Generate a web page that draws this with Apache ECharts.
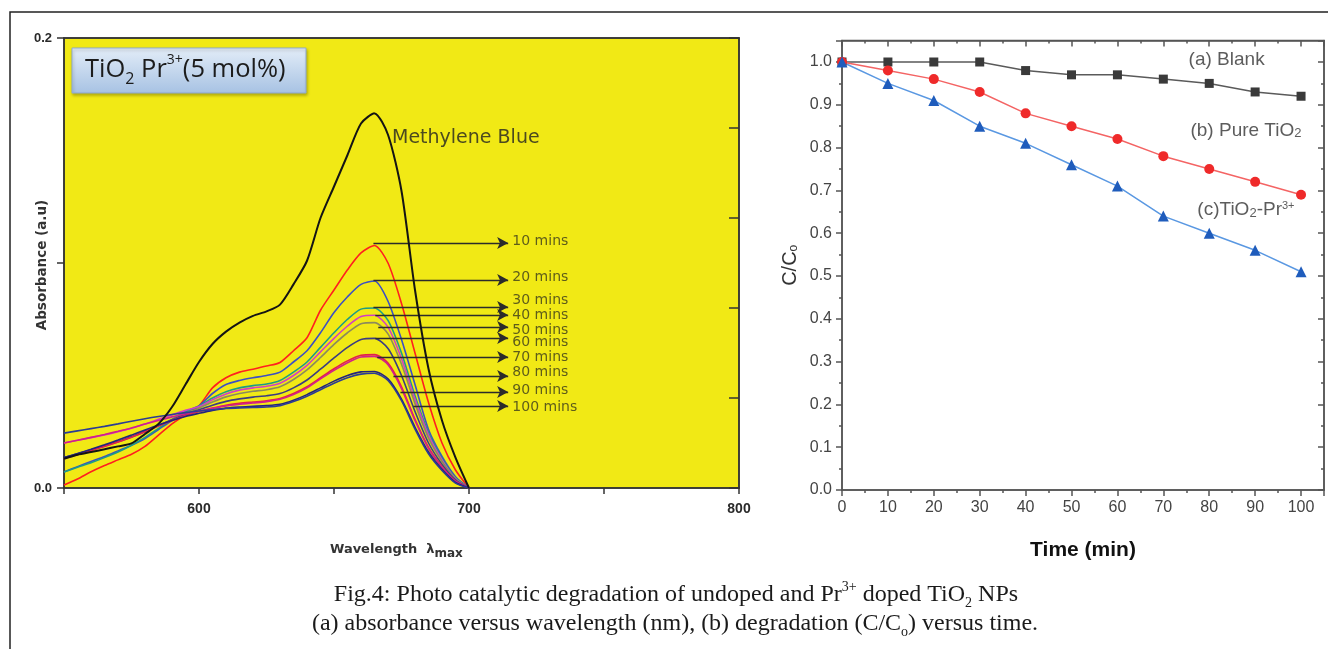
<!DOCTYPE html>
<html>
<head>
<meta charset="utf-8">
<script src="https://cdn.jsdelivr.net/npm/echarts@6/dist/echarts.min.js"></script>
<style>
  html, body { margin: 0; padding: 0; background: #ffffff; }
  #chart { width: 1328px; height: 649px; }
</style>
</head>
<body>
<div id="chart"></div>
<script>
// ---- (a) absorbance spectra, 550–700 nm ----
const wavelengths = [550,555,560,565,570,575,580,585,590,595,600,605,610,615,620,625,630,635,640,645,650,655,660,665,670,675,680,685,690,695,700];

const methyleneBlue = [.0130,.0148,.0160,.0172,.0185,.0198,.0240,.0285,.0360,.0460,.0560,.0640,.0695,.0735,.0765,.0785,.0815,.0905,.1010,.1200,.1340,.1480,.1620,.1665,.1570,.1320,.0880,.0530,.0300,.0135,0];
const min10  = [.0013,.0040,.0072,.0100,.0125,.0150,.0185,.0235,.0285,.0325,.0365,.0445,.0490,.0515,.0528,.0542,.0558,.0610,.0668,.0790,.0880,.0970,.1045,.1078,.1000,.0820,.0600,.0380,.0200,.0080,0];
const min20  = [.0071,.0095,.0118,.0140,.0165,.0190,.0220,.0260,.0300,.0335,.0365,.0420,.0460,.0478,.0490,.0500,.0515,.0560,.0610,.0690,.0780,.0850,.0905,.0920,.0830,.0660,.0460,.0260,.0140,.0050,0];
const min30  = [.0071,.0092,.0112,.0135,.0160,.0190,.0225,.0265,.0305,.0340,.0365,.0400,.0428,.0445,.0455,.0462,.0478,.0515,.0560,.0625,.0690,.0750,.0795,.0800,.0745,.0600,.0410,.0245,.0130,.0045,0];
const min40  = [.0200,.0212,.0224,.0236,.0250,.0266,.0284,.0305,.0325,.0345,.0362,.0392,.0418,.0435,.0445,.0452,.0466,.0500,.0545,.0605,.0665,.0720,.0762,.0768,.0715,.0575,.0395,.0235,.0125,.0042,0];
const min50  = [.0133,.0150,.0168,.0186,.0205,.0226,.0250,.0278,.0305,.0332,.0355,.0382,.0405,.0420,.0430,.0437,.0450,.0482,.0525,.0580,.0638,.0690,.0730,.0735,.0685,.0550,.0375,.0222,.0118,.0040,0];
const min60  = [.0135,.0152,.0170,.0188,.0207,.0228,.0252,.0278,.0303,.0328,.0348,.0368,.0385,.0396,.0404,.0410,.0420,.0445,.0480,.0528,.0578,.0625,.0660,.0665,.0620,.0500,.0340,.0200,.0105,.0035,0];
const min70  = [.0130,.0148,.0166,.0185,.0205,.0226,.0250,.0275,.0300,.0322,.0340,.0355,.0368,.0376,.0382,.0388,.0398,.0420,.0450,.0490,.0530,.0565,.0590,.0593,.0555,.0450,.0305,.0180,.0095,.0030,0];
const min80  = [.0200,.0212,.0225,.0238,.0252,.0267,.0284,.0300,.0316,.0330,.0342,.0354,.0365,.0372,.0378,.0384,.0394,.0415,.0445,.0485,.0523,.0557,.0582,.0585,.0548,.0442,.0300,.0176,.0092,.0030,0];
const min90  = [.0135,.0153,.0172,.0192,.0213,.0235,.0258,.0280,.0300,.0318,.0332,.0345,.0355,.0360,.0363,.0366,.0372,.0390,.0415,.0445,.0475,.0500,.0516,.0518,.0485,.0395,.0270,.0160,.0083,.0025,0];
const min100 = [.0244,.0254,.0264,.0274,.0285,.0297,.0308,.0318,.0327,.0335,.0342,.0348,.0353,.0356,.0358,.0360,.0366,.0384,.0408,.0437,.0466,.0490,.0506,.0510,.0478,.0388,.0262,.0152,.0078,.0022,0];

const timeSpectra = [min10, min20, min30, min40, min50, min60, min70, min80, min90, min100];
const spectrumNames = ['10 mins','20 mins','30 mins','40 mins','50 mins','60 mins','70 mins','80 mins','90 mins','100 mins'];
const spectrumColors = ['#ff1f1f','#3c4fc4','#1c9c86','#d23fc4','#8c8a5c','#3b3c82','#e21f4c','#d2208a','#23237e','#2c3c94'];

// call-out arrows: start wavelength, level, and label level
const arrowFrom   = [664.6, 664.6, 664.6, 665.3, 666.4, 665.3, 666.0, 672.0, 674.6, 679.4];
const arrowLevel  = [.1089, .0924, .0804, .0769, .0716, .0667, .0582, .0498, .0427, .0364];
const labelLevel  = [.1098, .0938, .0836, .0769, .0702, .0649, .0582, .0516, .0436, .0360];
const arrowTo = 714.5;
const labelAt = 715.5;

// ---- (b) degradation C/Co vs time ----
const timeMin   = [0, 10, 20, 30, 40, 50, 60, 70, 80, 90, 100];
const blank     = [1.00, 1.00, 1.00, 1.00, 0.98, 0.97, 0.97, 0.96, 0.95, 0.93, 0.92];
const pureTiO2  = [1.00, 0.98, 0.96, 0.93, 0.88, 0.85, 0.82, 0.78, 0.75, 0.72, 0.69];
const tio2Pr    = [1.00, 0.95, 0.91, 0.85, 0.81, 0.76, 0.71, 0.64, 0.60, 0.56, 0.51];

const pair = (xs, ys) => xs.map((x, i) => [x, ys[i]]);

const chart = echarts.init(document.getElementById('chart'), null, { renderer: 'canvas' });

const axisDark = { color: '#333', width: 1.5 };
const axisGray = { color: '#555', width: 1.5 };
const sans = "'Liberation Sans', Arial, sans-serif";
const dejavu = "'DejaVu Sans', sans-serif";
const clear = 'rgba(0,0,0,0)';

const series = [];

series.push({
  name: 'Methylene Blue', type: 'line', xAxisIndex: 0, yAxisIndex: 0,
  data: pair(wavelengths, methyleneBlue), showSymbol: false, smooth: 0.25,
  lineStyle: { color: '#141414', width: 2 }, z: 5,
  markLine: {
    silent: true, symbol: ['none', 'arrow'], symbolSize: [9, 11],
    lineStyle: { color: '#2b2b2b', width: 1.3, type: 'solid' },
    label: { show: false },
    data: arrowLevel.map((lv, i) => [{ coord: [arrowFrom[i], lv] }, { coord: [arrowTo, lv] }])
  }
});

timeSpectra.forEach((vals, i) => {
  series.push({
    name: spectrumNames[i], type: 'line', xAxisIndex: 0, yAxisIndex: 0,
    data: pair(wavelengths, vals), showSymbol: false, smooth: 0.25,
    lineStyle: { color: spectrumColors[i], width: 1.6 }, z: 4
  });
});

// call-out texts
series.push({
  type: 'scatter', xAxisIndex: 0, yAxisIndex: 0, symbolSize: 1, silent: true,
  itemStyle: { color: clear }, z: 6,
  data: labelLevel.map((lv, i) => ({ value: [labelAt, lv], name: spectrumNames[i] })),
  label: {
    show: true, position: 'right', distance: 1, formatter: p => p.name,
    fontFamily: dejavu, fontSize: 14, color: '#3a3a1c'
  }
});
series.push({
  type: 'scatter', xAxisIndex: 0, yAxisIndex: 0, symbolSize: 1, silent: true,
  itemStyle: { color: clear }, z: 6,
  data: [{ value: [671.3, 0.1556], name: 'Methylene Blue' }],
  label: {
    show: true, position: 'right', distance: 0, formatter: p => p.name,
    fontFamily: dejavu, fontSize: 19, color: '#222'
  }
});

// degradation curves
series.push({
  name: '(a) Blank', type: 'line', xAxisIndex: 2, yAxisIndex: 2,
  data: pair(timeMin, blank), symbol: 'rect', symbolSize: 9,
  itemStyle: { color: '#3a3a3a' }, lineStyle: { color: '#5a5a5a', width: 1.5 }
});
series.push({
  name: '(b) Pure TiO2', type: 'line', xAxisIndex: 2, yAxisIndex: 2,
  data: pair(timeMin, pureTiO2), symbol: 'circle', symbolSize: 10,
  itemStyle: { color: '#ef2a2a' }, lineStyle: { color: '#f46464', width: 1.5 }
});
series.push({
  name: '(c) TiO2-Pr3+', type: 'line', xAxisIndex: 2, yAxisIndex: 2,
  data: pair(timeMin, tio2Pr), symbol: 'triangle', symbolSize: 11,
  itemStyle: { color: '#1f5cbc' }, lineStyle: { color: '#5a98e2', width: 1.5 }
});
series.push({
  type: 'scatter', xAxisIndex: 2, yAxisIndex: 2, symbolSize: 1, silent: true,
  itemStyle: { color: clear }, z: 6,
  data: [
    { value: [75.4, 1.005], name: 'blank' },
    { value: [75.8, 0.839], name: 'pure' },
    { value: [77.3, 0.654], name: 'doped' }
  ],
  label: {
    show: true, position: 'right', distance: 0, color: '#333',
    fontFamily: sans, fontSize: 19,
    formatter: p => p.name === 'blank' ? '(a) Blank'
      : p.name === 'pure' ? '(b) Pure TiO{s|2}' : '(c)TiO{s|2}-Pr{u|3+}',
    rich: {
      s: { fontFamily: sans, fontSize: 13, lineHeight: 13, verticalAlign: 'bottom', color: '#333' },
      u: { fontFamily: sans, fontSize: 11, lineHeight: 11, verticalAlign: 'top', color: '#333' }
    }
  }
});

const option = {
  animation: false,
  backgroundColor: '#ffffff',
  grid: [
    { left: 64, top: 38, width: 675, height: 450, show: true, backgroundColor: '#f1e915', borderColor: '#333', borderWidth: 1.5 },
    { left: 842, top: 40.6, width: 482, height: 449.4, show: true, backgroundColor: '#ffffff', borderColor: '#555', borderWidth: 1.5 }
  ],
  xAxis: [
    {
      gridIndex: 0, type: 'value', min: 550, max: 800, interval: 50, position: 'bottom',
      axisLine: { onZero: false, lineStyle: axisDark },
      axisTick: { inside: false, length: 6, lineStyle: axisDark },
      axisLabel: {
        margin: 14, fontFamily: sans, fontWeight: 'bold', fontSize: 14, color: '#2a2a2a',
        formatter: v => (v === 600 || v === 700 || v === 800) ? String(v) : ''
      },
      splitLine: { show: false }
    },
    {
      gridIndex: 0, type: 'value', min: 550, max: 800, position: 'top',
      axisLine: { onZero: false, lineStyle: axisDark }, axisTick: { show: false },
      axisLabel: { show: false }, splitLine: { show: false }
    },
    {
      gridIndex: 1, type: 'value', min: 0, max: 105, interval: 10, position: 'bottom',
      name: 'Time (min)', nameLocation: 'middle', nameGap: 50,
      nameTextStyle: { fontFamily: sans, fontWeight: 'bold', fontSize: 21, color: '#111' },
      axisLine: { onZero: false, lineStyle: axisGray },
      axisTick: { inside: false, length: 6, lineStyle: axisGray },
      minorTick: { show: true, splitNumber: 2, length: 3, lineStyle: axisGray },
      axisLabel: { margin: 10, showMaxLabel: false, fontFamily: sans, fontSize: 16, color: '#444' },
      splitLine: { show: false }
    },
    {
      gridIndex: 1, type: 'value', min: 0, max: 105, interval: 10, position: 'top',
      axisLine: { onZero: false, lineStyle: axisGray },
      axisTick: { inside: true, length: 6, lineStyle: axisGray },
      minorTick: { show: true, splitNumber: 2, length: 3, lineStyle: axisGray },
      axisLabel: { show: false }, splitLine: { show: false }
    }
  ],
  yAxis: [
    {
      gridIndex: 0, type: 'value', min: 0, max: 0.2, interval: 0.1, position: 'left',
      axisLine: { onZero: false, lineStyle: axisDark },
      axisTick: { inside: false, length: 7, lineStyle: axisDark },
      axisLabel: {
        margin: 12, fontFamily: sans, fontWeight: 'bold', fontSize: 13, color: '#2a2a2a',
        formatter: v => (Math.abs(v) < 1e-9 || Math.abs(v - 0.2) < 1e-9) ? v.toFixed(1) : ''
      },
      splitLine: { show: false }
    },
    {
      gridIndex: 0, type: 'value', min: 0, max: 0.2, interval: 0.04, position: 'right',
      axisLine: { onZero: false, lineStyle: axisDark },
      axisTick: { inside: true, length: 10, lineStyle: axisDark },
      axisLabel: { show: false }, splitLine: { show: false }
    },
    {
      gridIndex: 1, type: 'value', min: 0, max: 1.05, interval: 0.1, position: 'left',
      name: '{a|C/C}{o|o}', nameLocation: 'middle', nameGap: 42, nameRotate: 90,
      nameTextStyle: {
        rich: {
          a: { fontFamily: sans, fontSize: 20, color: '#333' },
          o: { fontFamily: sans, fontSize: 12, color: '#333', verticalAlign: 'bottom', lineHeight: 12 }
        }
      },
      axisLine: { onZero: false, lineStyle: axisGray },
      axisTick: { inside: false, length: 6, lineStyle: axisGray },
      minorTick: { show: true, splitNumber: 2, length: 3, lineStyle: axisGray },
      axisLabel: { margin: 10, showMaxLabel: false, fontFamily: sans, fontSize: 16, color: '#444', formatter: v => v.toFixed(1) },
      splitLine: { show: false }
    },
    {
      gridIndex: 1, type: 'value', min: 0, max: 1.05, interval: 0.1, position: 'right',
      axisLine: { onZero: false, lineStyle: axisGray },
      axisTick: { inside: true, length: 6, lineStyle: axisGray },
      minorTick: { show: true, splitNumber: 2, length: 3, lineStyle: axisGray },
      axisLabel: { show: false }, splitLine: { show: false }
    }
  ],
  graphic: [
    {
      type: 'rect', z: 100, silent: true,
      shape: { x: 10, y: 12, width: 1340, height: 700 },
      style: { fill: 'none', stroke: '#222', lineWidth: 1.5 }
    },
    {
      type: 'rect', z: 100, silent: true,
      shape: { x: 72, y: 48, width: 234, height: 45 },
      style: {
        fill: new echarts.graphic.LinearGradient(0, 0, 0, 1, [
          { offset: 0, color: '#e3edf8' }, { offset: 1, color: '#a7c2e3' }
        ]),
        stroke: '#8ea9cf', lineWidth: 1,
        shadowBlur: 3, shadowOffsetX: 1, shadowOffsetY: 2, shadowColor: 'rgba(0,0,0,0.25)'
      }
    },
    {
      type: 'text', z: 101, silent: true, x: 85, y: 70,
      style: {
        text: 'TiO{s|2} Pr{u|3+}(5 mol%)', fill: '#1c1c1c',
        fontFamily: "'Open Sans', 'Liberation Sans', sans-serif", fontSize: 25.5,
        verticalAlign: 'middle', lineHeight: 34,
        rich: {
          s: { fontFamily: "'Open Sans', sans-serif", fontSize: 16, lineHeight: 16, verticalAlign: 'bottom', fill: '#1c1c1c' },
          u: { fontFamily: "'Open Sans', sans-serif", fontSize: 14, lineHeight: 14, verticalAlign: 'top', fill: '#1c1c1c' }
        }
      }
    },
    {
      // y-axis title of the absorbance panel
      type: 'text', z: 101, silent: true, x: 42, y: 265, rotation: Math.PI / 2,
      style: {
        text: 'Absorbance (a.u)', fill: '#333', fontFamily: dejavu, fontWeight: 'bold', fontSize: 13.5,
        align: 'center', verticalAlign: 'middle'
      }
    },
    {
      // x-axis title of the absorbance panel
      type: 'text', z: 101, silent: true, x: 330, y: 550,
      style: {
        text: 'Wavelength  {l|λ}{m|max}', fill: '#333', fontFamily: dejavu, fontWeight: 'bold', fontSize: 13,
        verticalAlign: 'middle', lineHeight: 20,
        rich: {
          l: { fontFamily: dejavu, fontWeight: 'bold', fontSize: 13, fill: '#333' },
          m: { fontFamily: dejavu, fontWeight: 'bold', fontSize: 12, lineHeight: 12, verticalAlign: 'bottom', fill: '#333' }
        }
      }
    },
    {
      type: 'text', z: 101, silent: true, x: 676, y: 595,
      style: {
        text: 'Fig.4: Photo catalytic degradation of undoped and Pr{u|3+} doped TiO{s|2} NPs',
        fill: '#1a1a1a', fontFamily: "'Liberation Serif', 'Times New Roman', serif", fontSize: 24,
        align: 'center', verticalAlign: 'middle', lineHeight: 30,
        rich: {
          u: { fontFamily: "'Liberation Serif', serif", fontSize: 14, lineHeight: 14, verticalAlign: 'top', fill: '#1a1a1a' },
          s: { fontFamily: "'Liberation Serif', serif", fontSize: 14, lineHeight: 14, verticalAlign: 'bottom', fill: '#1a1a1a' }
        }
      }
    },
    {
      type: 'text', z: 101, silent: true, x: 675, y: 624,
      style: {
        text: '(a) absorbance versus wavelength (nm), (b) degradation (C/C{s|o}) versus time.',
        fill: '#1a1a1a', fontFamily: "'Liberation Serif', 'Times New Roman', serif", fontSize: 24,
        align: 'center', verticalAlign: 'middle', lineHeight: 30,
        rich: {
          s: { fontFamily: "'Liberation Serif', serif", fontSize: 14, lineHeight: 14, verticalAlign: 'bottom', fill: '#1a1a1a' }
        }
      }
    }
  ],
  series: series
};

chart.setOption(option);
</script>
</body>
</html>
